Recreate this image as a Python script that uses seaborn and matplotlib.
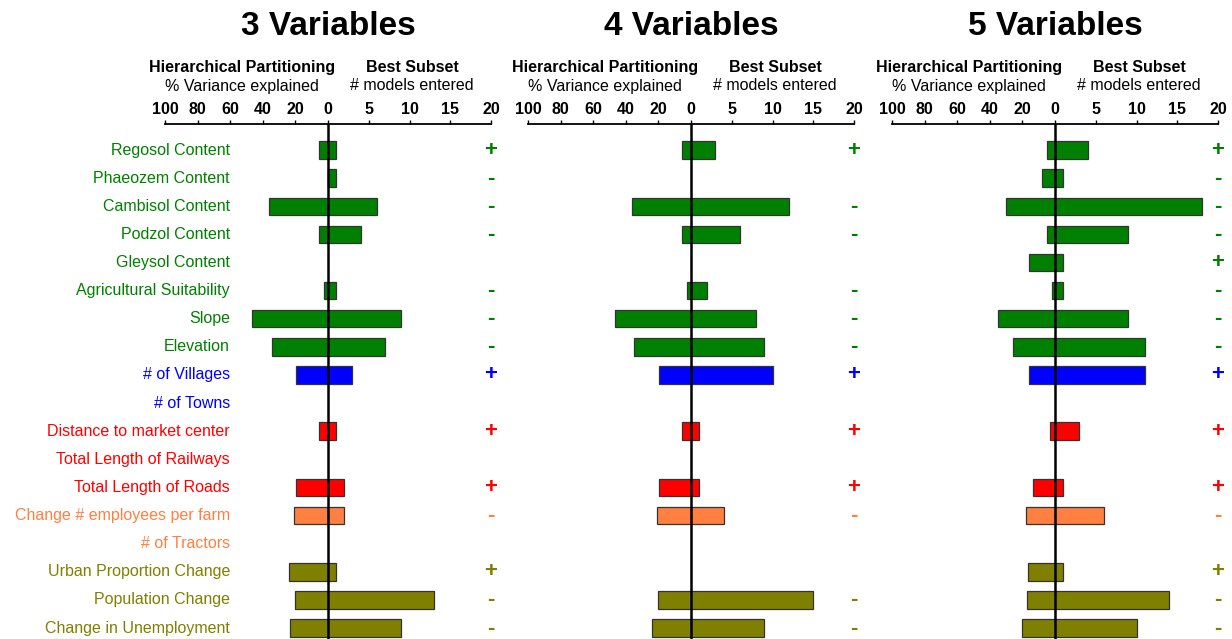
import numpy as np
import matplotlib.pyplot as plt
import matplotlib.transforms as mtransforms
import pandas as pd
import seaborn as sns

nan = np.nan

# row labels and the group each one belongs to
labels = ['Regosol Content', 'Phaeozem Content', 'Cambisol Content', 'Podzol Content',
          'Gleysol Content', 'Agricultural Suitability', 'Slope', 'Elevation',
          '# of Villages', '# of Towns', 'Distance to market center',
          'Total Length of Railways', 'Total Length of Roads',
          'Change # employees per farm', '# of Tractors', 'Urban Proportion Change',
          'Population Change', 'Change in Unemployment']
groups = ['soil'] * 8 + ['settle'] * 2 + ['market'] * 3 + ['farm'] * 2 + ['people'] * 3

# % variance explained (hierarchical partitioning)
var3 = [5.5, 0, 36, 5.3, nan, 2.6, 46.6, 34.5, 19.4, nan, 5.3, nan, 19.4, 20.9, nan, 24, 20.2, 23.5]
var4 = [5.7, nan, 36.4, 5.3, nan, 2.6, 46.8, 34.7, 19.4, nan, 5.3, nan, 19.6, 21, nan, nan, 20.4, 23.9]
var5 = [4.9, 8.2, 30.3, 4.7, 15.8, 2, 35.2, 26, 15.8, nan, 3.3, nan, 13.7, 17.6, nan, 16.8, 17.2, 20.1]

# number of models entered (best subset)
mod3 = [1, 1, 6, 4, nan, 1, 9, 7, 3, nan, 1, nan, 2, 2, nan, 1, 13, 9]
mod4 = [3, nan, 12, 6, nan, 2, 8, 9, 10, nan, 1, nan, 1, 4, nan, nan, 15, 9]
mod5 = [4, 1, 18, 9, 1, 1, 9, 11, 11, nan, 3, nan, 1, 6, nan, 1, 14, 10]

# sign of the effect
sign3 = ['+', '-', '-', '-', '', '-', '-', '-', '+', '', '+', '', '+', '-', '', '+', '-', '-']
sign4 = ['+', '', '-', '-', '', '-', '-', '-', '+', '', '+', '', '+', '-', '', '', '-', '-']
sign5 = ['+', '-', '-', '-', '+', '-', '-', '-', '+', '', '+', '', '+', '-', '', '+', '-', '-']

titles = ['3 Variables', '4 Variables', '5 Variables']

group_colors = {'soil': '#008000', 'settle': '#0000FF', 'market': '#FF0000',
                'farm': '#FF8040', 'people': '#808000'}
row_colors = [group_colors[g] for g in groups]
palette = dict(zip(labels, row_colors))

sns.set_style('white')
plt.rcParams['font.family'] = ['Liberation Sans', 'DejaVu Sans']
plt.rcParams['text.color'] = 'black'

W, H = 1232, 639
fig = plt.figure(figsize=(W / 100, H / 100), dpi=100)

panels = [(titles[0], var3, mod3, sign3),
          (titles[1], var4, mod4, sign4),
          (titles[2], var5, mod5, sign5)]
lefts = [165, 528, 892]

for i, (title, var, mod, sign) in enumerate(panels):
    ax = fig.add_axes([lefts[i] / W, 0, 326 / W, 515 / H])
    df = pd.DataFrame({'label': labels, 'var': var, 'mod': mod})
    df['left'] = -df['var'] / 5   # 100 % maps onto the same width as 20 models

    dl = df.dropna(subset=['left'])
    sns.barplot(data=dl, x='left', y='label', hue='label', order=labels, palette=palette,
                orient='h', width=0.62, saturation=1, errorbar=None, legend=False,
                edgecolor='#333333', linewidth=0.9, ax=ax)
    dr = df.dropna(subset=['mod'])
    sns.barplot(data=dr, x='mod', y='label', hue='label', order=labels, palette=palette,
                orient='h', width=0.62, saturation=1, errorbar=None, legend=False,
                edgecolor='#333333', linewidth=0.9, ax=ax)

    ax.axvline(0, color='black', lw=1.8, zorder=5)
    ax.set_xlim(-20, 20)
    ax.set_ylim(17.39, -0.925)
    ax.set_xlabel('')
    ax.set_ylabel('')

    for s in ['left', 'right', 'bottom']:
        ax.spines[s].set_visible(False)
    ax.spines['top'].set_color('black')
    ax.spines['top'].set_linewidth(1.3)

    ax.xaxis.tick_top()
    ax.set_xticks([-20, -16, -12, -8, -4, 0, 5, 10, 15, 20],
                  ['100', '80', '60', '40', '20', '0', '5', '10', '15', '20'],
                  fontweight='bold', fontsize=11.5)
    ax.tick_params(axis='x', top=True, labeltop=True, bottom=False, labelbottom=False,
                   direction='out', length=3, width=1, pad=2, colors='black')
    ax.tick_params(axis='y', length=0, labelleft=False)

    # row names sit inside the first panel, right-aligned at a fixed spot
    if i == 0:
        ytrans = mtransforms.blended_transform_factory(fig.transFigure, ax.transData)
        for j, lab in enumerate(labels):
            ax.text(230 / W, j, lab, transform=ytrans, color=row_colors[j],
                    fontsize=11.5, ha='right', va='center')

    for j, s in enumerate(sign):
        if s:
            ax.text(20, j, s, color=row_colors[j], fontweight='bold', fontsize=16,
                    ha='center', va='center', clip_on=False)

    trans = mtransforms.blended_transform_factory(ax.transData, fig.transFigure)
    ax.text(0, 1 - 35 / H, title, transform=trans, ha='center', va='baseline',
            fontsize=24, fontweight='bold')
    ax.text(-10.5, 1 - 72 / H, 'Hierarchical Partitioning', transform=trans,
            ha='center', va='baseline', fontsize=11.5, fontweight='bold')
    ax.text(-10.5, 1 - 90.5 / H, '% Variance explained', transform=trans,
            ha='center', va='baseline', fontsize=11.5)
    ax.text(10.3, 1 - 72 / H, 'Best Subset', transform=trans,
            ha='center', va='baseline', fontsize=11.5, fontweight='bold')
    ax.text(10.3, 1 - 90.5 / H, '# models entered', transform=trans,
            ha='center', va='baseline', fontsize=11.5)

fig.savefig('out.png', dpi=100)
